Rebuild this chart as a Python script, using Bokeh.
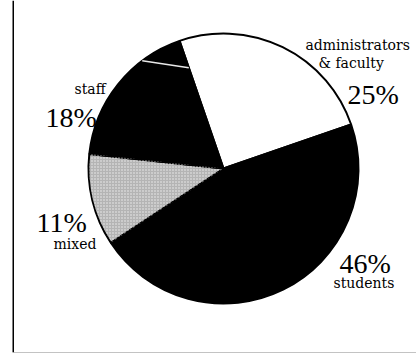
import math
from bokeh.plotting import figure
from bokeh.models import Span, Range1d, ColumnDataSource
from bokeh.core.properties import value
from bokeh.embed import file_html
from bokeh.resources import INLINE

# ---- data ----
categories = ["administrators & faculty", "students", "mixed", "staff"]
shares = [25, 46, 11, 18]
pct_labels = ["25%", "46%", "11%", "18%"]
name_labels = [["administrators", "& faculty"], ["students"], ["mixed"], ["staff"]]
staff_parts = [13, 5]  # thin white divider inside the staff slice

# ---- styling / layout ----
fills = ["white", "black", "#b4b4b4", "black"]
start_deg = -19.0      # clockwise from 12 o'clock where the first slice starts
R = 135.0
CX, CY = 223, 168      # pie centre in page pixels (layout only)

W, H = 416, 354
ML, MB = 12, 2
fx0, fx1 = ML, W
fy0, fy1 = 0, H - MB

p = figure(width=W, height=H, output_backend="svg", toolbar_location=None,
           x_range=Range1d(fx0 - CX, fx1 - CX), y_range=Range1d(CY - fy1, CY - fy0),
           x_axis_type=None, y_axis_type=None,
           min_border_left=ML, min_border_right=0, min_border_top=0, min_border_bottom=MB)
p.grid.visible = False
p.outline_line_color = None
p.background_fill_color = "white"
p.border_fill_color = "white"

# wedges
total = sum(shares)
starts, ends = [], []
acc = start_deg
for s in shares:
    th0 = acc
    th1 = acc + s / total * 360.0
    acc = th1
    starts.append(math.radians(90 - th1))
    ends.append(math.radians(90 - th0))

src = ColumnDataSource(dict(cat=categories, start=starts, end=ends, fill=fills))
p.wedge(x=0, y=0, radius=R, start_angle="start", end_angle="end",
        fill_color="fill", line_color="black", line_width=2, source=src)
# stipple on the mixed slice
p.wedge(x=0, y=0, radius=R - 1, start_angle=starts[2], end_angle=ends[2],
        fill_color=None, line_color=None, hatch_pattern="dot", hatch_color="white",
        hatch_scale=3, hatch_weight=1, hatch_alpha=0.8)

# thin white divider inside staff slice
staff_start = start_deg + sum(shares[:3]) / total * 360.0
div_th = math.radians(staff_start + staff_parts[0] / total * 360.0)
end_th = math.radians(start_deg)
inner = 0.79
p.segment(x0=[R * math.sin(div_th)], y0=[R * math.cos(div_th)],
          x1=[inner * R * math.sin(end_th)], y1=[inner * R * math.cos(end_th)],
          line_color="#e8e8e8", line_width=1.5)

# labels (page-pixel layout -> data coords)
label_pos = {
    "administrators": (305, 44, 14),
    "& faculty": (318, 62, 14),
    "25%": (347, 94, 28),
    "staff": (74, 88, 14),
    "18%": (45, 117, 28),
    "11%": (36, 222, 28),
    "mixed": (53, 243, 14),
    "46%": (339, 263, 28),
    "students": (333, 282, 14),
}
for i in range(len(categories)):
    for t in name_labels[i] + [pct_labels[i]]:
        x, y, sz = label_pos[t]
        font = "Liberation Serif" if "%" in t else "DejaVu Serif"
        p.text(x=[x - CX], y=[CY - y], text=[t], text_font=value(font),
               text_font_size=f"{sz}px", text_align="left",
               text_baseline="alphabetic", text_color="black")

# frame: thick left border, thin grey bottom
p.add_layout(Span(location=fx0 - CX, dimension="height", line_color="black", line_width=3))
p.add_layout(Span(location=CY - fy1, dimension="width", line_color="#888888", line_width=1))

open("out.html", "w").write(file_html(p, INLINE))
